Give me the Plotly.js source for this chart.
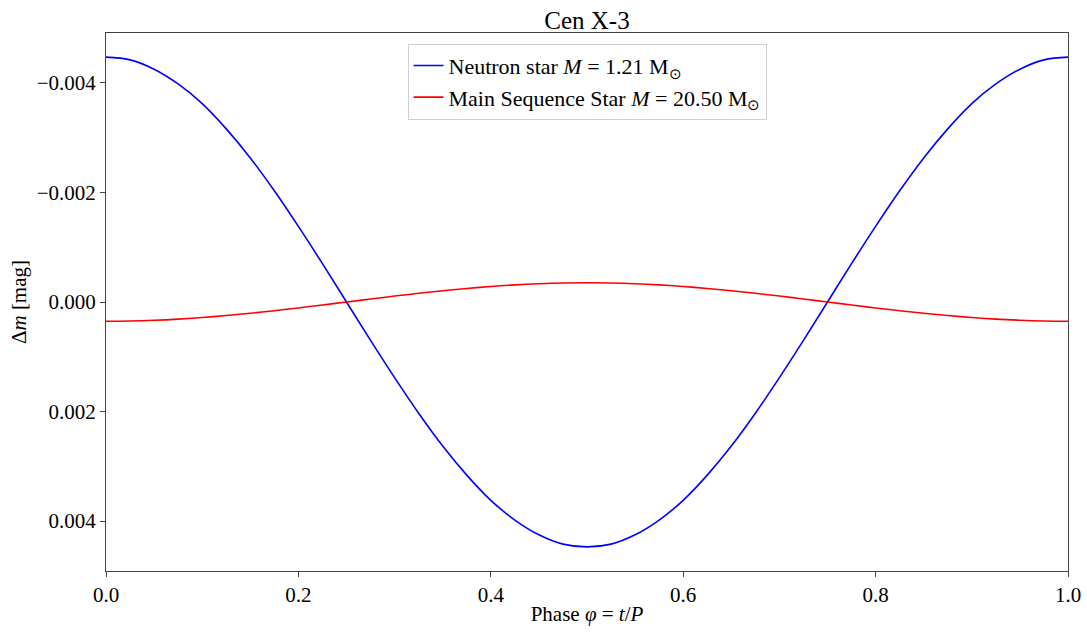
<!DOCTYPE html>
<html>
<head>
<meta charset="utf-8">
<script src="https://cdn.plot.ly/plotly-3.0.1.min.js"></script>
<style>html,body{margin:0;padding:0;background:#fff;}#chart{width:1087px;height:632px;}</style>
</head>
<body>
<div id="chart"></div>
<script>
const phase = [0, 0.025, 0.05, 0.075, 0.1, 0.125, 0.15, 0.175, 0.2, 0.225, 0.25, 0.275, 0.3, 0.325, 0.35, 0.375, 0.4, 0.425, 0.45, 0.475, 0.5,
               0.525, 0.55, 0.575, 0.6, 0.625, 0.65, 0.675, 0.7, 0.725, 0.75, 0.775, 0.8, 0.825, 0.85, 0.875, 0.9, 0.925, 0.95, 0.975, 1.0];
const neutronStar = [-0.00447, -0.00442, -0.00425, -0.00398, -0.00362, -0.00316, -0.00263, -0.00203, -0.00138, -0.00070, 0,
                     0.00070, 0.00138, 0.00203, 0.00263, 0.00316, 0.00362, 0.00398, 0.00425, 0.00442, 0.00447,
                     0.00442, 0.00425, 0.00398, 0.00362, 0.00316, 0.00263, 0.00203, 0.00138, 0.00070, 0,
                     -0.00070, -0.00138, -0.00203, -0.00263, -0.00316, -0.00362, -0.00398, -0.00425, -0.00442, -0.00447];
const mainSequence = [0.000350, 0.000346, 0.000333, 0.000312, 0.000283, 0.000247, 0.000206, 0.000159, 0.000108, 0.000055, 0,
                      -0.000055, -0.000108, -0.000159, -0.000206, -0.000247, -0.000283, -0.000312, -0.000333, -0.000346, -0.000350,
                      -0.000346, -0.000333, -0.000312, -0.000283, -0.000247, -0.000206, -0.000159, -0.000108, -0.000055, 0,
                      0.000055, 0.000108, 0.000159, 0.000206, 0.000247, 0.000283, 0.000312, 0.000333, 0.000346, 0.000350];
const names = ['Neutron star <i>M</i> = 1.21 M<sub>⊙</sub>', 'Main Sequence Star <i>M</i> = 20.50 M<sub>⊙</sub>'];
const colors = ['#0000ff', '#ff0000'];

const font = 'Liberation Serif, Times New Roman, serif';
const traces = [
  {x: phase, y: neutronStar, name: names[0], mode: 'lines', line: {color: colors[0], width: 1.6, shape: 'spline', smoothing: 1}},
  {x: phase, y: mainSequence, name: names[1], mode: 'lines', line: {color: colors[1], width: 1.6, shape: 'spline', smoothing: 1}}
];
const axisCommon = {
  showgrid: false, zeroline: false, showline: true, mirror: true,
  linecolor: '#444', linewidth: 1, ticks: 'outside', ticklen: 5, tickwidth: 1, tickcolor: '#444',
  tickfont: {family: font, size: 21, color: '#000'}
};
const layout = {
  width: 1087, height: 632,
  margin: {l: 106, r: 19, t: 33, b: 61},
  paper_bgcolor: '#fff', plot_bgcolor: '#fff',
  font: {family: font, color: '#000'},
  title: {text: 'Cen X-3', x: 0.54, xanchor: 'center', y: 0.968, yanchor: 'middle', font: {family: font, size: 25, color: '#000'}},
  xaxis: Object.assign({}, axisCommon, {
    range: [0, 1], tickvals: [0, 0.2, 0.4, 0.6, 0.8, 1.0], tickformat: '.1f',
    title: {text: 'Phase <i>φ</i> = <i>t</i>/<i>P</i>', font: {family: font, size: 21}, standoff: 0}
  }),
  yaxis: Object.assign({}, axisCommon, {
    range: [0.00491, -0.00491], tickvals: [-0.004, -0.002, 0, 0.002, 0.004], tickformat: '.3f',
    title: {text: 'Δ<i>m</i> [mag]', font: {family: font, size: 21}, standoff: 4}
  }),
  showlegend: true,
  legend: {x: 0.5, xanchor: 'center', y: 0.98, yanchor: 'top', bgcolor: 'rgba(255,255,255,0.8)', bordercolor: '#d0d0d0', borderwidth: 1, font: {family: font, size: 22, color: '#000'}, tracegroupgap: 0}
};
Plotly.newPlot('chart', traces, layout, {displayModeBar: false, staticPlot: true});
</script>
</body>
</html>
